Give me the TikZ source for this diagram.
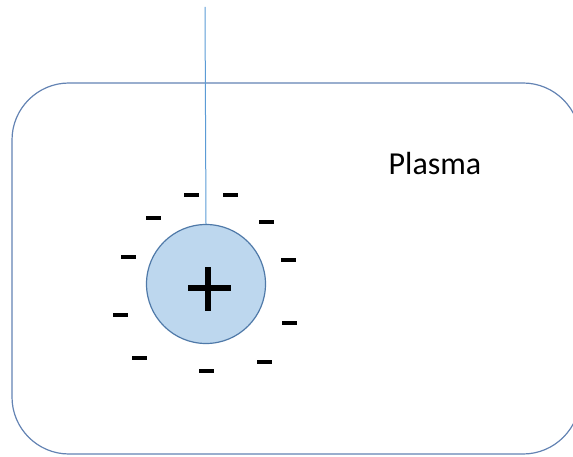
\documentclass[tikz,border=0pt]{standalone}
\usepackage{fontspec}
\setmainfont{Carlito}
\definecolor{boxline}{HTML}{6383B3}
\definecolor{ballfill}{HTML}{BDD7EE}
\definecolor{ballline}{HTML}{4F79A8}
\definecolor{wireline}{HTML}{5B9BD5}
\tikzset{
  minusbar/.style={rectangle, fill=black, minimum width=15pt, minimum height=4pt, inner sep=0pt},
  plasmabox/.style={draw=boxline, line width=1.2pt, rounded corners=57pt},
}
\begin{document}
\begin{tikzpicture}[x=1pt,y=-1pt]
\useasboundingbox (0,0) rectangle (573,457);
\clip (0,0) rectangle (573,457);
\draw[plasmabox] (12,83) rectangle (580,454);
\node[circle, draw=ballline, fill=ballfill, line width=1.2pt, minimum size=119pt, inner sep=0pt] (ball) at (206,284) {};
\coordinate (wtop) at (205,7);
\draw[wireline, line width=1pt] (wtop) -- (ball.north);
\node[rectangle, fill=black, minimum width=43pt, minimum height=6pt, inner sep=0pt] (plush) at (209,288) {};
\node[rectangle, fill=black, minimum width=6pt, minimum height=44pt, inner sep=0pt] (plusv) at (208,289) {};
\node[minusbar] (m1) at (191,195) {};
\node[minusbar] (m2) at (230,195) {};
\node[minusbar] (m3) at (153,218) {};
\node[minusbar] (m4) at (266,222) {};
\node[minusbar] (m5) at (128,257) {};
\node[minusbar] (m6) at (288,260) {};
\node[minusbar] (m7) at (120,315) {};
\node[minusbar] (m8) at (289,323) {};
\node[minusbar] (m9) at (139,358) {};
\node[minusbar] (m10) at (206,371) {};
\node[minusbar] (m11) at (264,362) {};
\node[anchor=base, inner sep=0pt, font=\fontsize{32pt}{36pt}\selectfont] (plasma) at (435,175) {Plasma};
\end{tikzpicture}
\end{document}
